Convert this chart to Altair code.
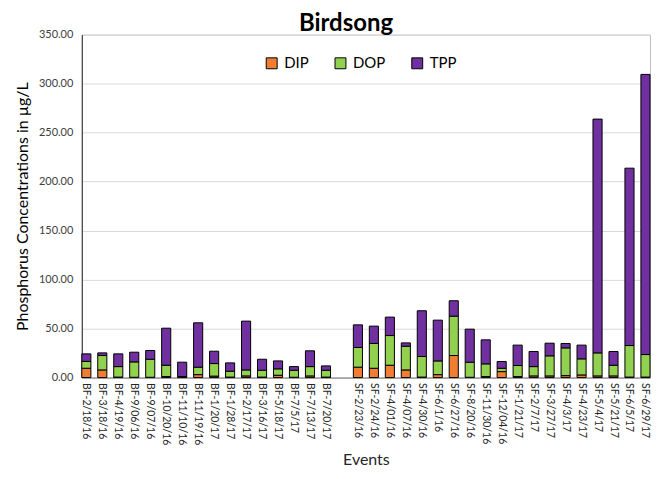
import altair as alt
import pandas as pd

bf_events = ["BF-2/18/16", "BF-3/18/16", "BF-4/19/16", "BF-9/06/16", "BF-9/07/16",
             "BF-10/20/16", "BF-11/10/16", "BF-11/19/16", "BF-1/20/17", "BF-1/28/17",
             "BF-2/17/17", "BF-3/16/17", "BF-5/18/17", "BF-7/5/17", "BF-7/13/17", "BF-7/20/17"]
sf_events = ["SF-2/23/16", "SF-2/24/16", "SF-4/01/16", "SF-4/07/16", "SF-4/30/16",
             "SF-6/1/16", "SF-6/27/16", "SF-8/20/16", "SF-11/30/16", "SF-12/04/16",
             "SF-1/21/17", "SF-2/7/17", "SF-3/27/17", "SF-4/3/17", "SF-4/23/17",
             "SF-5/4/17", "SF-5/21/17", "SF-6/5/17", "SF-6/29/17"]
gap = [" "]
axis_order = bf_events + gap + sf_events

dip = [9.5, 7.8, 0.5, 0.3, 0.3, 1.0, 0.3, 3.0, 1.5, 0.5, 1.7, 0.5, 2.4, 0.3, 1.7, 0.5,
       10.6, 9.5, 12.6, 7.8, 0.5, 3.0, 22.5, 0.3, 1.0, 6.1, 1.0, 1.7, 1.7, 2.0, 2.7, 1.7, 1.7, 0.5, 0.5]
dop = [7.0, 14.7, 10.7, 15.7, 18.4, 11.6, 0.7, 7.6, 12.8, 6.0, 6.1, 7.0, 6.5, 7.2, 9.5, 7.0,
       20.1, 25.3, 30.3, 24.2, 21.0, 14.0, 40.2, 15.4, 13.0, 3.4, 11.3, 9.5, 20.5, 28.3, 16.4, 23.5, 10.9, 32.2, 23.0]
tpp = [7.7, 2.7, 13.0, 9.9, 8.9, 37.8, 14.7, 45.3, 12.6, 8.5, 49.8, 11.2, 8.1, 3.7, 16.1, 4.4,
       23.1, 17.7, 18.8, 3.4, 46.7, 41.6, 15.7, 33.7, 24.5, 6.9, 20.8, 15.4, 12.9, 4.5, 14.0, 238.6, 14.0, 181.0, 285.9]

components = ["DIP", "DOP", "TPP"]
colors = ["#F07E32", "#92D050", "#7030A0"]

rows = []
for i, ev in enumerate(bf_events + sf_events):
    for k, (name, vals) in enumerate(zip(components, [dip, dop, tpp])):
        rows.append({"event": ev, "component": name, "value": vals[i], "ord": k})
df = pd.DataFrame(rows)

FONT = "Lato"

chart = alt.Chart(df).mark_bar(stroke="black", strokeWidth=1).encode(
    x=alt.X("event:N", sort=axis_order,
            scale=alt.Scale(domain=axis_order, paddingInner=0.43, paddingOuter=0.0),
            axis=alt.Axis(title="Events", labelAngle=90, labelAlign="left", labelBaseline="middle",
                          labelFontSize=10.5, labelColor="#262626", labelFont=FONT,
                          ticks=False, domainColor="#808080", labelPadding=5,
                          titleFont=FONT, titleFontSize=16, titleFontWeight="normal",
                          titleColor="#262626", titlePadding=7, labelOverlap=False)),
    y=alt.Y("value:Q", stack="zero",
            scale=alt.Scale(domain=[0, 350], nice=False),
            axis=alt.Axis(title="Phosphorus Concentrations in µg/L", format=".2f",
                          values=[0, 50, 100, 150, 200, 250, 300, 350],
                          labelFont=FONT, labelFontSize=11, labelColor="#404040",
                          ticks=False, domainColor="#262626", gridColor="#d9d9d9",
                          titleFont=FONT, titleFontSize=16, titleFontWeight="normal",
                          titleColor="#000000", titlePadding=8, labelPadding=9)),
    color=alt.Color("component:N", scale=alt.Scale(domain=components, range=colors),
                    legend=alt.Legend(title=None, orient="none", legendX=183, legendY=21,
                                      direction="horizontal", symbolType="square",
                                      symbolSize=120, symbolStrokeColor="black",
                                      symbolStrokeWidth=1, labelFont=FONT, labelFontSize=15,
                                      labelColor="#000000", columnPadding=24, labelOffset=5)),
    order=alt.Order("ord:Q"),
).properties(
    width=570, height=344,
    padding={"left": 74, "top": 26, "right": 4, "bottom": 93},
    autosize=alt.AutoSizeParams(type="none"),
    title=alt.TitleParams("Birdsong", font=FONT, fontSize=24, fontWeight="bold",
                          color="#000000", anchor="middle", dx=-20, dy=13, offset=6),
).configure_view(stroke="#bfbfbf")

chart.save("out.html", embed_options={"renderer": "svg", "actions": False})
